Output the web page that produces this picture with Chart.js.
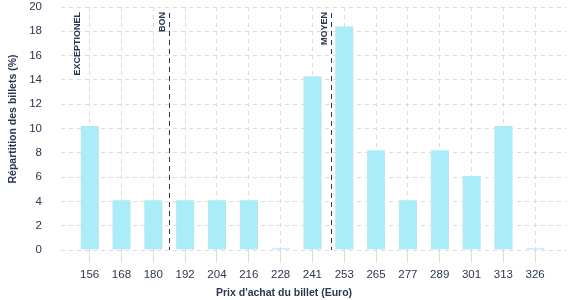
<!DOCTYPE html>
<html>
<head>
<meta charset="utf-8">
<script src="https://cdn.jsdelivr.net/npm/chart.js@4"></script>
<style>
html,body{margin:0;padding:0;background:#fff;}
#wrap{width:577px;height:300px;position:relative;}
</style>
</head>
<body>
<div id="wrap"><canvas id="c" width="577" height="300"></canvas></div>
<script>
const categories = ['156','168','180','192','204','216','228','241','253','265','277','289','301','313','326'];
const shares = [10.2, 4.1, 4.1, 4.1, 4.1, 4.1, 0.15, 14.3, 18.4, 8.2, 4.1, 8.2, 6.1, 10.2, 0.15];
const yTicks = [0, 2, 4, 6, 8, 10, 12, 14, 16, 18, 20];
const markerLabels = ['EXCEPTIONEL', 'BON', 'MOYEN'];
const markerPositions = [-0.17, 2.48, 7.59];
const markerLines = [false, true, true];
const xTitle = "Prix d'achat du billet (Euro)";
const yTitle = 'Répartition des billets (%)';

const textColor = '#2b3650';
const gridColor = '#dcdcdc';

function zeroPad(scale) {
  scale.paddingLeft = 0; scale.paddingRight = 0;
  scale.paddingTop = 0; scale.paddingBottom = 0;
}

const markerPlugin = {
  id: 'markers',
  afterDatasetsDraw(chart) {
    const ctx = chart.ctx;
    const xs = chart.scales.x;
    const area = chart.chartArea;
    ctx.save();
    markerLabels.forEach((lab, i) => {
      const px = Math.round(xs.getPixelForValue(markerPositions[i])) + 0.5;
      if (markerLines[i]) {
        ctx.beginPath();
        ctx.setLineDash([5, 4]);
        ctx.strokeStyle = textColor;
        ctx.lineWidth = 1;
        ctx.moveTo(px, area.top + 6);
        ctx.lineTo(px, area.bottom);
        ctx.stroke();
      }
      ctx.save();
      ctx.translate(px - 7, 12);
      ctx.rotate(-Math.PI / 2);
      ctx.font = 'bold 9px "Liberation Sans", Arial, sans-serif';
      ctx.fillStyle = textColor;
      ctx.textAlign = 'right';
      ctx.textBaseline = 'middle';
      ctx.fillText(lab, 0, 0);
      ctx.restore();
    });
    ctx.restore();
  },
  afterDraw(chart) {
    const ctx = chart.ctx;
    ctx.save();
    ctx.fillStyle = textColor;
    ctx.font = 'bold 10.5px "Liberation Sans", Arial, sans-serif';
    ctx.textAlign = 'center';
    ctx.textBaseline = 'middle';
    ctx.fillText(xTitle, 284, 293);
    ctx.translate(13, 119);
    ctx.rotate(-Math.PI / 2);
    ctx.fillText(yTitle, 0, 0);
    ctx.restore();
  }
};

new Chart(document.getElementById('c'), {
  type: 'bar',
  data: {
    datasets: [{
      data: shares.map((v, i) => ({ x: i, y: v })),
      backgroundColor: '#aaedf8',
      borderColor: '#d8d8d8',
      borderWidth: { top: 0, left: 0, bottom: 0, right: 1 },
      borderSkipped: false,
      barThickness: 18
    }]
  },
  options: {
    responsive: false,
    animation: false,
    events: [],
    layout: { padding: { top: 7, right: 10, left: 0, bottom: 0 } },
    plugins: { legend: { display: false }, tooltip: { enabled: false } },
    scales: {
      x: {
        type: 'linear',
        offset: false,
        min: -0.9,
        max: 15,
        afterBuildTicks(scale) { scale.ticks = categories.map((_, i) => ({ value: i })); },
        afterFit(scale) { scale.height = 50; zeroPad(scale); },
        ticks: {
          autoSkip: false,
          maxRotation: 0,
          padding: 5,
          color: textColor,
          font: { family: '"Liberation Sans", Arial, sans-serif', size: 11.5 },
          callback: (v) => categories[v]
        },
        grid: {
          offset: false,
          color: gridColor,
          tickLength: 13,
          tickColor: gridColor,
          drawTicks: true
        },
        border: { display: false, dash: [4, 4] },
        title: { display: false }
      },
      y: {
        min: 0,
        max: 20,
        afterBuildTicks(scale) { scale.ticks = yTicks.map(v => ({ value: v })); },
        afterFit(scale) { scale.width = 61; zeroPad(scale); },
        ticks: {
          padding: 19,
          color: textColor,
          font: { family: '"Liberation Sans", Arial, sans-serif', size: 11.5 }
        },
        grid: { color: gridColor, drawTicks: false },
        border: { display: false, dash: [4, 4] },
        title: { display: false }
      }
    }
  },
  plugins: [markerPlugin]
});
</script>
</body>
</html>
